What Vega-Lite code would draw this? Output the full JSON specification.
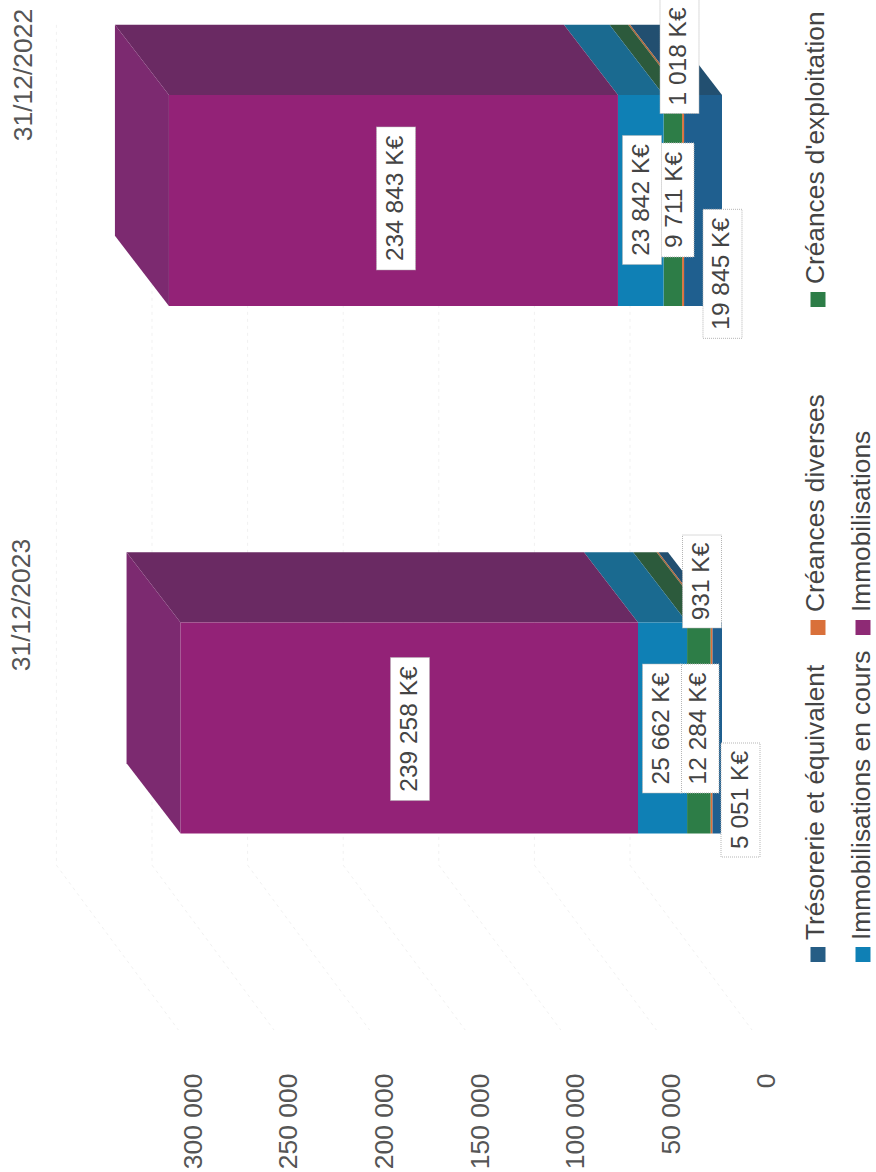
{
  "$schema": "https://vega.github.io/schema/vega-lite/v6.json",
  "width": 876,
  "height": 1172,
  "padding": 0,
  "autosize": {"type": "none"},
  "background": "#ffffff",
  "config": {"view": {"stroke": null}},
  "datasets": {
    "postes": [
      {"date": "31/12/2023", "serie": "Trésorerie et équivalent", "ordre": 1, "valeur": 5051, "haut": 1.0, "bas": 1.4, "etiquette": "5 051 K€", "ex": -9676, "er": 1.3365},
      {"date": "31/12/2023", "serie": "Créances diverses", "ordre": 2, "valeur": 931, "haut": 1.0, "bas": 1.4, "etiquette": "931 K€", "ex": 10460, "er": 0.9223},
      {"date": "31/12/2023", "serie": "Créances d'exploitation", "ordre": 3, "valeur": 12284, "haut": 1.0, "bas": 1.4, "etiquette": "12 284 K€", "ex": 11770, "er": 1.201},
      {"date": "31/12/2023", "serie": "Immobilisations en cours", "ordre": 4, "valeur": 25662, "haut": 1.0, "bas": 1.4, "etiquette": "25 662 K€", "ex": 31380, "er": 1.201},
      {"date": "31/12/2023", "serie": "Immobilisations", "ordre": 5, "valeur": 239258, "haut": 1.0, "bas": 1.4, "etiquette": "239 258 K€", "ex": 163180, "er": 1.202},
      {"date": "31/12/2022", "serie": "Trésorerie et équivalent", "ordre": 1, "valeur": 19845, "haut": 0.0, "bas": 0.4, "etiquette": "19 845 K€", "ex": -260, "er": 0.339},
      {"date": "31/12/2022", "serie": "Créances diverses", "ordre": 2, "valeur": 1018, "haut": 0.0, "bas": 0.4, "etiquette": "1 018 K€", "ex": 22230, "er": -0.073},
      {"date": "31/12/2022", "serie": "Créances d'exploitation", "ordre": 3, "valeur": 9711, "haut": 0.0, "bas": 0.4, "etiquette": "9 711 K€", "ex": 24840, "er": 0.199},
      {"date": "31/12/2022", "serie": "Immobilisations en cours", "ordre": 4, "valeur": 23842, "haut": 0.0, "bas": 0.4, "etiquette": "23 842 K€", "ex": 41840, "er": 0.199},
      {"date": "31/12/2022", "serie": "Immobilisations", "ordre": 5, "valeur": 234843, "haut": 0.0, "bas": 0.4, "etiquette": "234 843 K€", "ex": 170500, "er": 0.196}
    ],
    "flancs": [
      {"date": "31/12/2023", "serie": "Trésorerie et équivalent", "r": 1.0, "debut": 0, "fin": 5051},
      {"date": "31/12/2023", "serie": "Trésorerie et équivalent", "r": 0.867, "debut": 28243, "fin": 33294},
      {"date": "31/12/2023", "serie": "Créances diverses", "r": 1.0, "debut": 5051, "fin": 5982},
      {"date": "31/12/2023", "serie": "Créances diverses", "r": 0.867, "debut": 33294, "fin": 34225},
      {"date": "31/12/2023", "serie": "Créances d'exploitation", "r": 1.0, "debut": 5982, "fin": 18266},
      {"date": "31/12/2023", "serie": "Créances d'exploitation", "r": 0.867, "debut": 34225, "fin": 46509},
      {"date": "31/12/2023", "serie": "Immobilisations en cours", "r": 1.0, "debut": 18266, "fin": 43928},
      {"date": "31/12/2023", "serie": "Immobilisations en cours", "r": 0.867, "debut": 46509, "fin": 72171},
      {"date": "31/12/2023", "serie": "Immobilisations", "r": 1.0, "debut": 43928, "fin": 283186},
      {"date": "31/12/2023", "serie": "Immobilisations", "r": 0.867, "debut": 72171, "fin": 311429},
      {"date": "31/12/2022", "serie": "Trésorerie et équivalent", "r": 0.0, "debut": 0, "fin": 19845},
      {"date": "31/12/2022", "serie": "Trésorerie et équivalent", "r": -0.133, "debut": 28243, "fin": 48088},
      {"date": "31/12/2022", "serie": "Créances diverses", "r": 0.0, "debut": 19845, "fin": 20863},
      {"date": "31/12/2022", "serie": "Créances diverses", "r": -0.133, "debut": 48088, "fin": 49106},
      {"date": "31/12/2022", "serie": "Créances d'exploitation", "r": 0.0, "debut": 20863, "fin": 30574},
      {"date": "31/12/2022", "serie": "Créances d'exploitation", "r": -0.133, "debut": 49106, "fin": 58817},
      {"date": "31/12/2022", "serie": "Immobilisations en cours", "r": 0.0, "debut": 30574, "fin": 54416},
      {"date": "31/12/2022", "serie": "Immobilisations en cours", "r": -0.133, "debut": 58817, "fin": 82659},
      {"date": "31/12/2022", "serie": "Immobilisations", "r": 0.0, "debut": 54416, "fin": 289259},
      {"date": "31/12/2022", "serie": "Immobilisations", "r": -0.133, "debut": 82659, "fin": 317502}
    ],
    "bouts": [
      {"date": "31/12/2023", "x": 283186, "r0": 1.0, "r1": 1.4},
      {"date": "31/12/2023", "x": 311429, "r0": 0.867, "r1": 1.267},
      {"date": "31/12/2022", "x": 289259, "r0": 0.0, "r1": 0.4},
      {"date": "31/12/2022", "x": 317502, "r0": -0.133, "r1": 0.267}
    ],
    "grille": [
      {"tick": 0, "fond": 48120, "avant": -15690},
      {"tick": 50000, "fond": 98120, "avant": 34310},
      {"tick": 100000, "fond": 148120, "avant": 84310},
      {"tick": 150000, "fond": 198120, "avant": 134310},
      {"tick": 200000, "fond": 248120, "avant": 184310},
      {"tick": 250000, "fond": 298120, "avant": 234310},
      {"tick": 300000, "fond": 348120, "avant": 284310}
    ],
    "legende": [
      {"serie": "Trésorerie et équivalent", "cx": -50210, "cr": 1.6294, "tx": -49163, "tr": 1.6019},
      {"serie": "Créances diverses", "cx": -50210, "cr": 1.0095, "tx": -49163, "tr": 0.9801},
      {"serie": "Créances d'exploitation", "cx": -50210, "cr": 0.3877, "tx": -49163, "tr": 0.3583},
      {"serie": "Immobilisations en cours", "cx": -73745, "cr": 1.6294, "tx": -73220, "tr": 1.6019},
      {"serie": "Immobilisations", "cx": -73745, "cr": 1.0095, "tx": -73220, "tr": 0.9801}
    ],
    "dates": [
      {"date": "31/12/2023", "x": 366110, "r": 0.9668},
      {"date": "31/12/2022", "x": 365060, "r": -0.0379}
    ]
  },
  "layer": [
    {
      "data": {"name": "grille"},
      "mark": {"type": "rule", "color": "#f1f1f1", "strokeWidth": 1, "strokeDash": [3, 4]},
      "encoding": {
        "x": {
          "field": "fond", "type": "quantitative", "title": null,
          "scale": {"domain": [377615, -80544], "nice": false, "zero": false},
          "axis": {
            "orient": "bottom", "offset": -99, "title": null, "domain": false, "ticks": false, "grid": false,
            "values": [0, 50000, 100000, 150000, 200000, 250000, 300000],
            "labelExpr": "replace(format(datum.value, ','), ',', ' ')",
            "labelAngle": 270, "labelAlign": "right", "labelBaseline": "middle",
            "labelOffset": 45, "labelPadding": 0, "labelFont": "Liberation Sans", "labelFontSize": 26.5,
            "labelColor": "#555555", "labelOverlap": false
          }
        },
        "y": {
          "datum": -0.133, "type": "quantitative",
          "scale": {"domain": [-0.1801, 2.0417], "reverse": true, "nice": false, "zero": false},
          "axis": null
        },
        "y2": {"datum": 1.46}
      }
    },
    {
      "data": {"name": "grille"},
      "mark": {"type": "rule", "color": "#f1f1f1", "strokeWidth": 1, "strokeDash": [3, 4]},
      "encoding": {
        "x": {"field": "fond", "type": "quantitative", "title": null},
        "x2": {"field": "avant"},
        "y": {"datum": 1.46, "type": "quantitative", "axis": null},
        "y2": {"datum": 1.7725}
      }
    },
    {
      "data": {"name": "flancs"},
      "mark": {"type": "area", "orient": "horizontal"},
      "encoding": {
        "x": {"field": "debut", "type": "quantitative", "title": null},
        "x2": {"field": "fin"},
        "y": {"field": "r", "type": "quantitative", "axis": null},
        "detail": {"field": "date"},
        "color": {
          "field": "serie", "type": "nominal", "legend": null,
          "scale": {
            "domain": ["Trésorerie et équivalent", "Créances diverses", "Créances d'exploitation", "Immobilisations en cours", "Immobilisations"],
            "range": ["#224f70", "#b0683c", "#2c5a3c", "#1a6a90", "#6a2a63"]
          }
        }
      }
    },
    {
      "data": {"name": "bouts"},
      "mark": {"type": "area", "orient": "vertical", "color": "#7c2a70"},
      "encoding": {
        "x": {"field": "x", "type": "quantitative", "title": null},
        "y": {"field": "r0", "type": "quantitative", "axis": null},
        "y2": {"field": "r1"},
        "detail": {"field": "date"}
      }
    },
    {
      "data": {"name": "postes"},
      "transform": [{"stack": "valeur", "groupby": ["date"], "sort": [{"field": "ordre", "order": "ascending"}], "as": ["debut", "fin"]}],
      "mark": {"type": "rect"},
      "encoding": {
        "x": {"field": "debut", "type": "quantitative", "title": null},
        "x2": {"field": "fin"},
        "y": {"field": "haut", "type": "quantitative", "axis": null},
        "y2": {"field": "bas"},
        "color": {
          "field": "serie", "type": "nominal", "legend": null,
          "scale": {
            "domain": ["Trésorerie et équivalent", "Créances diverses", "Créances d'exploitation", "Immobilisations en cours", "Immobilisations"],
            "range": ["#1f5f8f", "#e0703a", "#2d7d47", "#0f80b5", "#932277"]
          }
        }
      }
    },
    {
      "data": {"name": "postes"},
      "transform": [{"filter": "length(datum.etiquette) == 6"}],
      "mark": {"type": "rect", "width": 39, "height": 93, "fill": "#ffffff", "stroke": "#b5b5b5", "strokeWidth": 1, "strokeDash": [1, 1]},
      "encoding": {
        "x": {"field": "ex", "type": "quantitative", "title": null},
        "y": {"field": "er", "type": "quantitative", "axis": null}
      }
    },
    {
      "data": {"name": "postes"},
      "transform": [{"filter": "length(datum.etiquette) == 8"}],
      "mark": {"type": "rect", "width": 39, "height": 114, "fill": "#ffffff", "stroke": "#b5b5b5", "strokeWidth": 1, "strokeDash": [1, 1]},
      "encoding": {
        "x": {"field": "ex", "type": "quantitative", "title": null},
        "y": {"field": "er", "type": "quantitative", "axis": null}
      }
    },
    {
      "data": {"name": "postes"},
      "transform": [{"filter": "length(datum.etiquette) == 9"}],
      "mark": {"type": "rect", "width": 39, "height": 129, "fill": "#ffffff", "stroke": "#b5b5b5", "strokeWidth": 1, "strokeDash": [1, 1]},
      "encoding": {
        "x": {"field": "ex", "type": "quantitative", "title": null},
        "y": {"field": "er", "type": "quantitative", "axis": null}
      }
    },
    {
      "data": {"name": "postes"},
      "transform": [{"filter": "length(datum.etiquette) == 10"}],
      "mark": {"type": "rect", "width": 39, "height": 143, "fill": "#ffffff", "stroke": "#b5b5b5", "strokeWidth": 1, "strokeDash": [1, 1]},
      "encoding": {
        "x": {"field": "ex", "type": "quantitative", "title": null},
        "y": {"field": "er", "type": "quantitative", "axis": null}
      }
    },
    {
      "data": {"name": "postes"},
      "mark": {"type": "text", "angle": 270, "align": "center", "baseline": "middle", "font": "Liberation Sans", "fontSize": 24.5, "color": "#444444"},
      "encoding": {
        "x": {"field": "ex", "type": "quantitative", "title": null},
        "y": {"field": "er", "type": "quantitative", "axis": null},
        "text": {"field": "etiquette"}
      }
    },
    {
      "data": {"name": "dates"},
      "mark": {"type": "text", "angle": 270, "align": "center", "baseline": "middle", "font": "Liberation Sans", "fontSize": 26.5, "color": "#555555"},
      "encoding": {
        "x": {"field": "x", "type": "quantitative", "title": null},
        "y": {"field": "r", "type": "quantitative", "axis": null},
        "text": {"field": "date"}
      }
    },
    {
      "data": {"name": "legende"},
      "mark": {"type": "point", "shape": "square", "filled": true, "size": 225, "opacity": 1},
      "encoding": {
        "x": {"field": "cx", "type": "quantitative", "title": null},
        "y": {"field": "cr", "type": "quantitative", "axis": null},
        "color": {
          "field": "serie", "type": "nominal", "legend": null,
          "scale": {
            "domain": ["Trésorerie et équivalent", "Créances diverses", "Créances d'exploitation", "Immobilisations en cours", "Immobilisations"],
            "range": ["#265d85", "#d9703a", "#2d7d47", "#0f80b5", "#8e2a75"]
          }
        }
      }
    },
    {
      "data": {"name": "legende"},
      "mark": {"type": "text", "angle": 270, "align": "left", "baseline": "middle", "font": "Liberation Sans", "fontSize": 26.3, "color": "#444444"},
      "encoding": {
        "x": {"field": "tx", "type": "quantitative", "title": null},
        "y": {"field": "tr", "type": "quantitative", "axis": null},
        "text": {"field": "serie"}
      }
    }
  ],
  "resolve": {"scale": {"color": "independent"}}
}
